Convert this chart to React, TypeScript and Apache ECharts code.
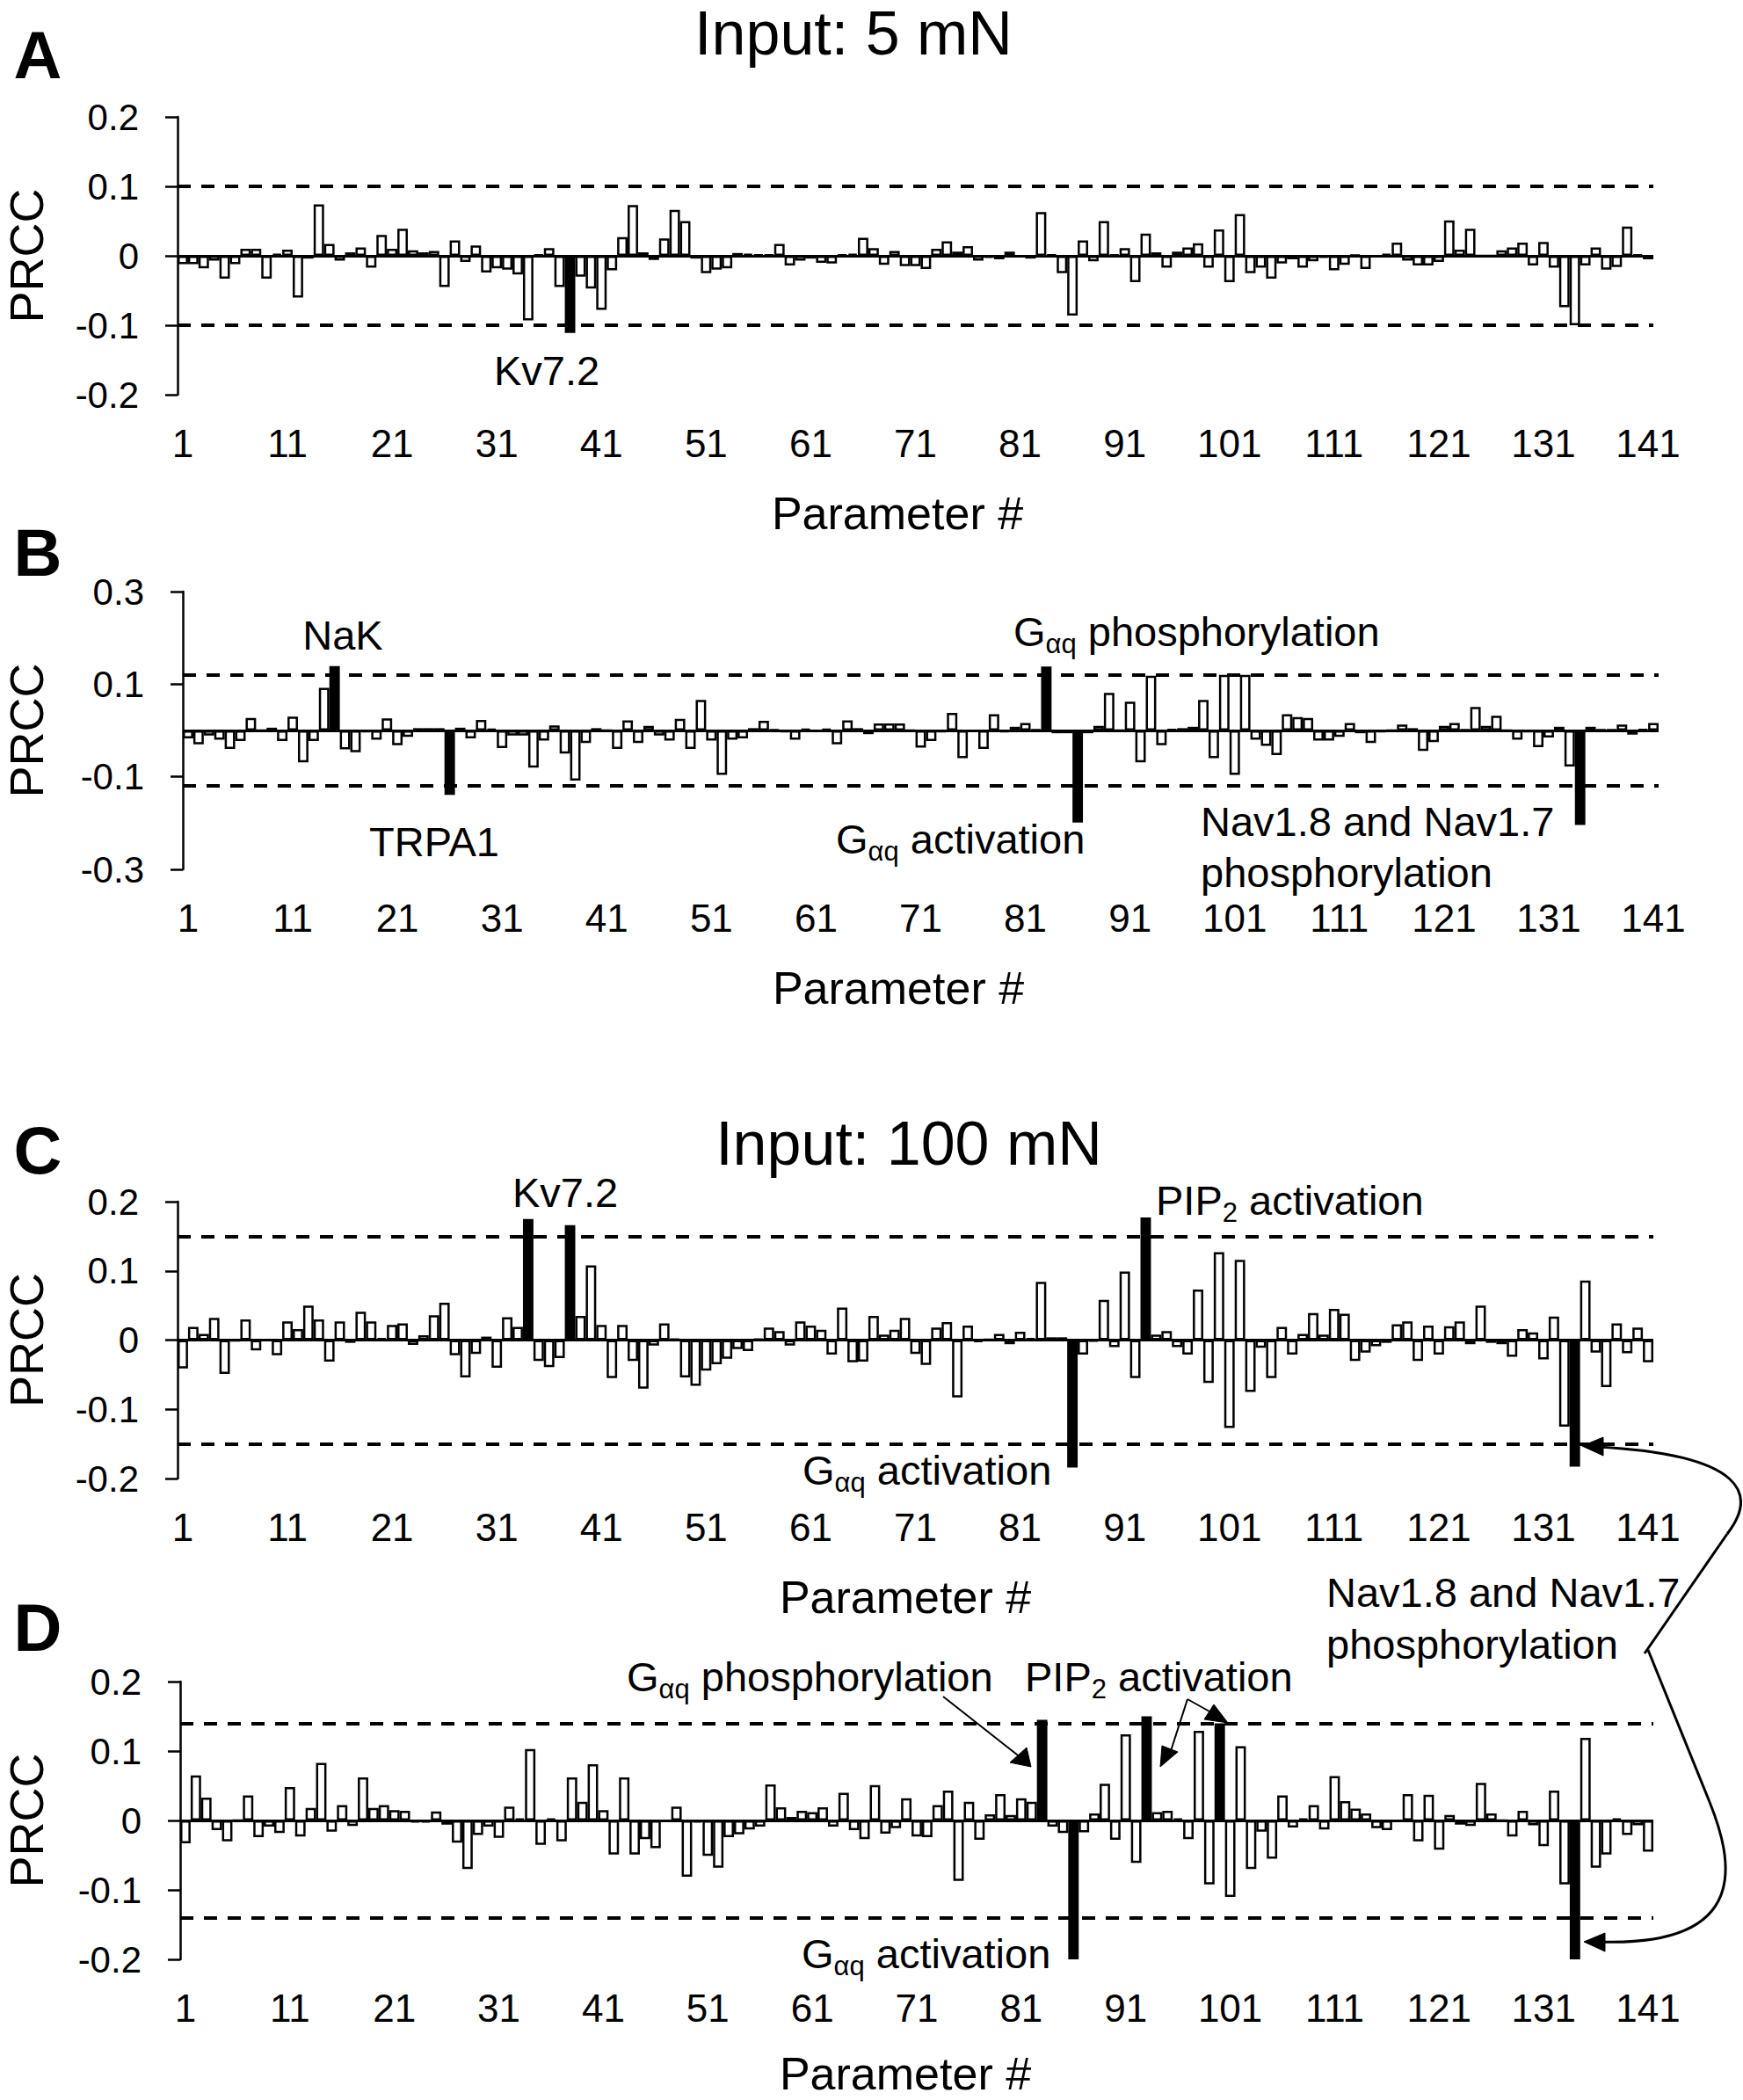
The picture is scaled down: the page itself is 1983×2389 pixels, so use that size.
import React, { useEffect, useRef } from "react";
import * as echarts from "echarts";

const FF = '"Liberation Sans", Arial, Helvetica, sans-serif';

// ---------- DATA ----------
const PARAMS: string[] = Array.from({ length: 141 }, (_, i) => String(i + 1));

const PRCC_A = [
  -0.012, -0.012, -0.018, -0.007, -0.033, -0.012, 0.01, 0.01, -0.033, 0.003,
  0.009, -0.06, -0.004, 0.074, 0.017, -0.007, 0.005, 0.012, -0.017, 0.03,
  0.01, 0.039, 0.008, 0.005, 0.007, -0.045, 0.022, -0.009, 0.015, -0.024,
  -0.018, -0.02, -0.027, -0.093, 0.002, 0.011, -0.045, -0.111, -0.03, -0.047,
  -0.078, -0.021, 0.027, 0.073, 0.005, -0.006, 0.025, 0.066, 0.05, -0.004,
  -0.025, -0.02, -0.018, 0.004, 0.003, 0.002, 0.002, 0.017, -0.014, -0.007,
  -0.004, -0.01, -0.011, 0.002, 0.003, 0.026, 0.011, -0.013, 0.007, -0.015,
  -0.015, -0.019, 0.01, 0.021, 0.006, 0.014, -0.007, -0.003, -0.005, 0.006,
  -0.002, -0.004, 0.063, 0.002, -0.025, -0.086, 0.022, -0.008, 0.05, 0.002,
  0.011, -0.038, 0.032, 0.005, -0.017, 0.006, 0.012, 0.018, -0.017, 0.038,
  -0.038, 0.06, -0.025, -0.017, -0.033, -0.011, -0.005, -0.017, -0.008, -0.003,
  -0.021, -0.013, 0.001, -0.019, -0.002, 0.003, 0.019, -0.007, -0.014, -0.014,
  -0.009, 0.051, 0.009, 0.039, 0.0, 0.0, 0.008, 0.012, 0.019, -0.014,
  0.02, -0.017, -0.074, -0.1, -0.014, 0.012, -0.02, -0.016, 0.042, 0.002,
  -0.005,
];

const PRCC_B = [
  -0.017, -0.03, -0.011, -0.02, -0.04, -0.023, 0.027, 0.0, 0.006, -0.023,
  0.03, -0.069, -0.023, 0.092, 0.139, -0.041, -0.047, -0.004, -0.02, 0.026,
  -0.032, -0.014, 0.005, 0.005, 0.005, -0.139, 0.006, -0.017, 0.023, 0.004,
  -0.038, -0.011, -0.011, -0.08, -0.022, 0.011, -0.05, -0.108, -0.027, 0.005,
  0.0, -0.04, 0.022, -0.027, 0.01, -0.011, -0.022, 0.025, -0.04, 0.066,
  -0.022, -0.096, -0.02, -0.017, 0.005, 0.021, 0.002, -0.004, -0.02, 0.004,
  -0.002, 0.004, -0.03, 0.022, 0.005, -0.008, 0.015, 0.015, 0.015, 0.0,
  -0.037, -0.023, -0.004, 0.038, -0.06, -0.003, -0.04, 0.035, -0.004, 0.008,
  0.016, 0.002, 0.138, -0.006, -0.006, -0.199, -0.006, 0.01, 0.081, 0.0,
  0.062, -0.069, 0.118, -0.032, 0.003, 0.005, 0.008, 0.066, -0.06, 0.12,
  -0.096, 0.12, -0.02, -0.033, -0.053, 0.035, 0.029, 0.027, -0.022, -0.022,
  -0.014, 0.016, -0.006, -0.027, -0.004, 0.0, 0.013, 0.005, -0.044, -0.025,
  0.01, 0.016, 0.002, 0.051, 0.01, 0.032, 0.0, -0.02, -0.004, -0.036,
  -0.015, 0.008, -0.078, -0.204, 0.008, 0.002, 0.002, 0.013, -0.009, 0.003,
  0.016,
];

const PRCC_C = [
  -0.041, 0.019, 0.009, 0.032, -0.049, -0.001, 0.03, -0.015, 0.0, -0.022,
  0.027, 0.016, 0.05, 0.03, -0.031, 0.027, -0.004, 0.041, 0.027, 0.003,
  0.022, 0.024, -0.007, 0.007, 0.036, 0.054, -0.022, -0.054, -0.02, 0.005,
  -0.04, 0.033, 0.019, 0.175, -0.03, -0.039, -0.026, 0.166, 0.035, 0.108,
  0.022, -0.055, 0.022, -0.03, -0.07, -0.008, 0.024, 0.002, -0.054, -0.066,
  -0.044, -0.035, -0.027, -0.013, -0.016, 0.002, 0.018, 0.013, -0.008, 0.027,
  0.021, 0.015, -0.021, 0.047, -0.032, -0.031, 0.035, 0.008, 0.015, 0.032,
  -0.02, -0.036, 0.018, 0.026, -0.083, 0.021, -0.003, 0.001, 0.009, -0.006,
  0.012, 0.003, 0.084, 0.004, 0.004, -0.184, -0.021, -0.002, 0.058, -0.01,
  0.099, -0.055, 0.177, 0.008, 0.013, -0.01, -0.021, 0.073, -0.062, 0.127,
  -0.127, 0.116, -0.075, -0.011, -0.055, 0.019, -0.021, 0.009, 0.039, 0.008,
  0.045, 0.038, -0.03, -0.018, -0.009, -0.004, 0.023, 0.027, -0.03, 0.021,
  -0.021, 0.02, 0.027, -0.006, 0.05, -0.004, -0.006, -0.024, 0.016, 0.011,
  -0.028, 0.034, -0.125, -0.183, 0.086, -0.018, -0.068, 0.024, -0.019, 0.018,
  -0.032,
];

const PRCC_D = [
  -0.033, 0.065, 0.033, -0.014, -0.03, 0.0, 0.036, -0.024, -0.009, -0.018,
  0.048, -0.023, 0.018, 0.083, -0.016, 0.022, -0.008, 0.062, 0.018, 0.022,
  0.015, 0.014, -0.003, -0.003, 0.013, -0.006, -0.032, -0.07, -0.021, -0.009,
  -0.025, 0.02, 0.003, 0.103, -0.035, 0.003, -0.03, 0.062, 0.027, 0.081,
  0.015, -0.049, 0.062, -0.049, -0.027, -0.04, -0.002, 0.02, -0.081, -0.003,
  -0.051, -0.068, -0.024, -0.02, -0.013, -0.009, 0.052, 0.019, 0.005, 0.014,
  0.012, 0.019, -0.009, 0.04, -0.014, -0.027, 0.051, -0.019, -0.011, 0.032,
  -0.023, -0.024, 0.022, 0.043, -0.087, 0.027, -0.028, 0.009, 0.038, 0.008,
  0.032, 0.027, 0.145, -0.009, -0.018, -0.2, -0.017, 0.01, 0.053, -0.028,
  0.124, -0.061, 0.15, 0.012, 0.014, 0.003, -0.027, 0.129, -0.092, 0.14,
  -0.11, 0.107, -0.07, -0.016, -0.055, 0.036, -0.01, 0.003, 0.022, -0.013,
  0.064, 0.028, 0.017, 0.01, -0.011, -0.014, -0.002, 0.038, -0.03, 0.037,
  -0.042, 0.008, -0.006, -0.008, 0.054, 0.01, 0.0, -0.023, 0.014, -0.007,
  -0.037, 0.043, -0.092, -0.2, 0.119, -0.068, -0.049, 0.003, -0.021, -0.007,
  -0.045,
];

const HIGHLIGHT_A = [38];
const HIGHLIGHT_B = [15, 26, 83, 86, 134];
const HIGHLIGHT_C = [34, 38, 86, 93, 134];
const HIGHLIGHT_D = [83, 86, 93, 100, 134];

const THRESHOLDS = [0.1, 0.12, 0.15, 0.14];
const Y_MIN = [-0.2, -0.3, -0.2, -0.2];
const Y_MAX = [0.2, 0.3, 0.2, 0.2];
const Y_STEP = [0.1, 0.2, 0.1, 0.1];

// ---------- LAYOUT ----------
const GRIDS = [
  { left: 202, top: 133, width: 1679, height: 316 },
  { left: 208, top: 673, width: 1679, height: 316 },
  { left: 202, top: 1367, width: 1679, height: 315 },
  { left: 205, top: 1913, width: 1676, height: 316 },
];
const XNAME_X = [1021, 1022, 1030, 1030];
const XNAME_GAP = [135, 135, 135, 130];

const ANN = 47;
const SUB = 31;

let measureCtx: CanvasRenderingContext2D | null = null;
function tw(t: string, size: number): number {
  if (!measureCtx) measureCtx = document.createElement("canvas").getContext("2d");
  if (!measureCtx) return t.length * size * 0.55;
  measureCtx.font = `${size}px ${FF}`;
  return measureCtx.measureText(t).width;
}

function txt(text: string, x: number, y: number, size: number, align = "center", weight = "normal", rotation = 0) {
  return {
    type: "text",
    x,
    y,
    rotation,
    silent: true,
    style: {
      text,
      fontSize: size,
      fontFamily: FF,
      fontWeight: weight,
      fill: "#000",
      align,
      verticalAlign: "middle",
    },
  };
}

function seq(x: number, y: number, parts: Array<[string, boolean]>) {
  const els: any[] = [];
  let cx = x;
  for (const [t, sub] of parts) {
    const size = sub ? SUB : ANN;
    els.push(txt(t, cx, sub ? y + 14 : y, size, "left"));
    cx += tw(t, size);
  }
  return els;
}

function line(x1: number, y1: number, x2: number, y2: number, w = 2) {
  return { type: "line", silent: true, shape: { x1, y1, x2, y2 }, style: { stroke: "#000", lineWidth: w } };
}
function tri(pts: number[][]) {
  return { type: "polygon", silent: true, shape: { points: pts }, style: { fill: "#000", stroke: "#000", lineWidth: 1 } };
}
function bez(x1: number, y1: number, cpx1: number, cpy1: number, cpx2: number, cpy2: number, x2: number, y2: number) {
  return {
    type: "bezierCurve",
    silent: true,
    shape: { x1, y1, cpx1, cpy1, cpx2, cpy2, x2, y2 },
    style: { stroke: "#000", lineWidth: 3, fill: null },
  };
}

function buildOption() {
  const values = [PRCC_A, PRCC_B, PRCC_C, PRCC_D];
  const highs = [HIGHLIGHT_A, HIGHLIGHT_B, HIGHLIGHT_C, HIGHLIGHT_D];
  const fmt = (v: number) => String(Number(v.toFixed(2)));

  const grid = GRIDS.map((g) => ({ ...g, containLabel: false, outerBoundsMode: "none" }));
  const xAxis = GRIDS.map((_, i) => ({
    type: "category",
    gridIndex: i,
    data: PARAMS,
    axisLine: { show: false, onZero: false },
    axisTick: { show: false },
    splitLine: { show: false },
    axisLabel: { interval: 9, fontSize: 44, color: "#000", fontFamily: FF, margin: 33 },
  }));
  const yAxis = GRIDS.map((_, i) => ({
    type: "value",
    gridIndex: i,
    min: Y_MIN[i],
    max: Y_MAX[i],
    interval: Y_STEP[i],
    splitLine: { show: false },
    axisLine: { show: true, onZero: false, lineStyle: { color: "#000", width: 2.5 } },
    axisTick: { show: true, length: 14, lineStyle: { color: "#000", width: 2.5 } },
    axisLabel: { fontSize: 42, color: "#000", fontFamily: FF, margin: 44, formatter: fmt },
  }));
  const series = values.map((vals, i) => ({
    type: "bar",
    xAxisIndex: i,
    yAxisIndex: i,
    barCategoryGap: "0%",
    barGap: "0%",
    silent: true,
    clip: true,
    itemStyle: { color: "#fff", borderColor: "#000", borderWidth: 2.5 },
    data: vals.map((v, k) =>
      highs[i].includes(k + 1) ? { value: v, itemStyle: { color: "#000", borderColor: "#000" } } : v
    ),
    markLine: {
      silent: true,
      symbol: ["none", "none"],
      label: { show: false },
      data: [
        { yAxis: 0, lineStyle: { type: "solid", width: 3, color: "#000" } },
        { yAxis: THRESHOLDS[i], lineStyle: { type: [15, 12], width: 4, color: "#000" } },
        { yAxis: -THRESHOLDS[i], lineStyle: { type: [15, 12], width: 4, color: "#000" } },
      ],
    },
  }));

  const G: any[] = [];
  // titles & panel letters
  G.push(txt("Input: 5 mN", 971, 38, 70));
  G.push(txt("Input: 100 mN", 1034, 1301, 70));
  G.push(txt("A", 43, 62, 76, "center", "bold"));
  G.push(txt("B", 43, 628, 76, "center", "bold"));
  G.push(txt("C", 43, 1308, 76, "center", "bold"));
  G.push(txt("D", 43, 1851, 76, "center", "bold"));
  // axis names
  GRIDS.forEach((g, i) => {
    G.push(txt("PRCC", 30, g.top + g.height / 2, 54, "center", "normal", Math.PI / 2));
    G.push(txt("Parameter #", XNAME_X[i], g.top + g.height + XNAME_GAP[i], 52));
  });
  // panel A
  G.push(txt("Kv7.2", 622, 421, ANN));
  // panel B
  G.push(txt("NaK", 390, 722, ANN));
  G.push(txt("TRPA1", 494, 957, ANN));
  G.push(...seq(1153, 718, [["G", false], ["αq", true], [" phosphorylation", false]]));
  G.push(...seq(951, 954, [["G", false], ["αq", true], [" activation", false]]));
  G.push(txt("Nav1.8 and Nav1.7", 1366, 934, ANN, "left"));
  G.push(txt("phosphorylation", 1366, 992, ANN, "left"));
  // panel C
  G.push(txt("Kv7.2", 643, 1356, ANN));
  G.push(...seq(1315, 1365, [["PIP", false], ["2", true], [" activation", false]]));
  G.push(...seq(913, 1672, [["G", false], ["αq", true], [" activation", false]]));
  G.push(txt("Nav1.8 and Nav1.7", 1509, 1811, ANN, "left"));
  G.push(txt("phosphorylation", 1509, 1870, ANN, "left"));
  // panel D
  G.push(...seq(713, 1907, [["G", false], ["αq", true], [" phosphorylation", false]]));
  G.push(...seq(1166, 1907, [["PIP", false], ["2", true], [" activation", false]]));
  G.push(...seq(912, 2222, [["G", false], ["αq", true], [" activation", false]]));
  // D arrows
  G.push(line(1073, 1930, 1162, 2000));
  G.push(tri([[1173, 2010], [1149, 2005], [1168, 1988]]));
  G.push(line(1351, 1933, 1331, 1995));
  G.push(tri([[1320, 2010], [1322, 1986], [1340, 1993]]));
  G.push(line(1351, 1933, 1376, 1947));
  G.push(tri([[1381, 1939], [1370, 1956], [1397, 1960]]));
  // curved Nav arrows
  G.push(line(1871, 1881, 1965, 1745, 3));
  G.push(bez(1965, 1745, 2000, 1700, 1985, 1655, 1818, 1646));
  G.push(tri([[1800, 1645], [1824, 1635], [1824, 1656]]));
  G.push(line(1875, 1877, 1945, 2050, 3));
  G.push(bez(1945, 2050, 1971, 2115, 1995, 2215, 1820, 2209));
  G.push(tri([[1802, 2209], [1826, 2199], [1826, 2220]]));

  return {
    animation: false,
    backgroundColor: "#fff",
    textStyle: { fontFamily: FF },
    grid,
    xAxis,
    yAxis,
    series,
    graphic: { elements: G },
  };
}

export default function App() {
  const ref = useRef<HTMLDivElement>(null);
  useEffect(() => {
    document.body.style.margin = "0";
    if (!ref.current) return;
    const chart = echarts.init(ref.current, undefined, { renderer: "svg" });
    chart.setOption(buildOption() as any);
    return () => chart.dispose();
  }, []);
  return <div ref={ref} style={{ width: 1983, height: 2389, background: "#fff" }} />;
}
